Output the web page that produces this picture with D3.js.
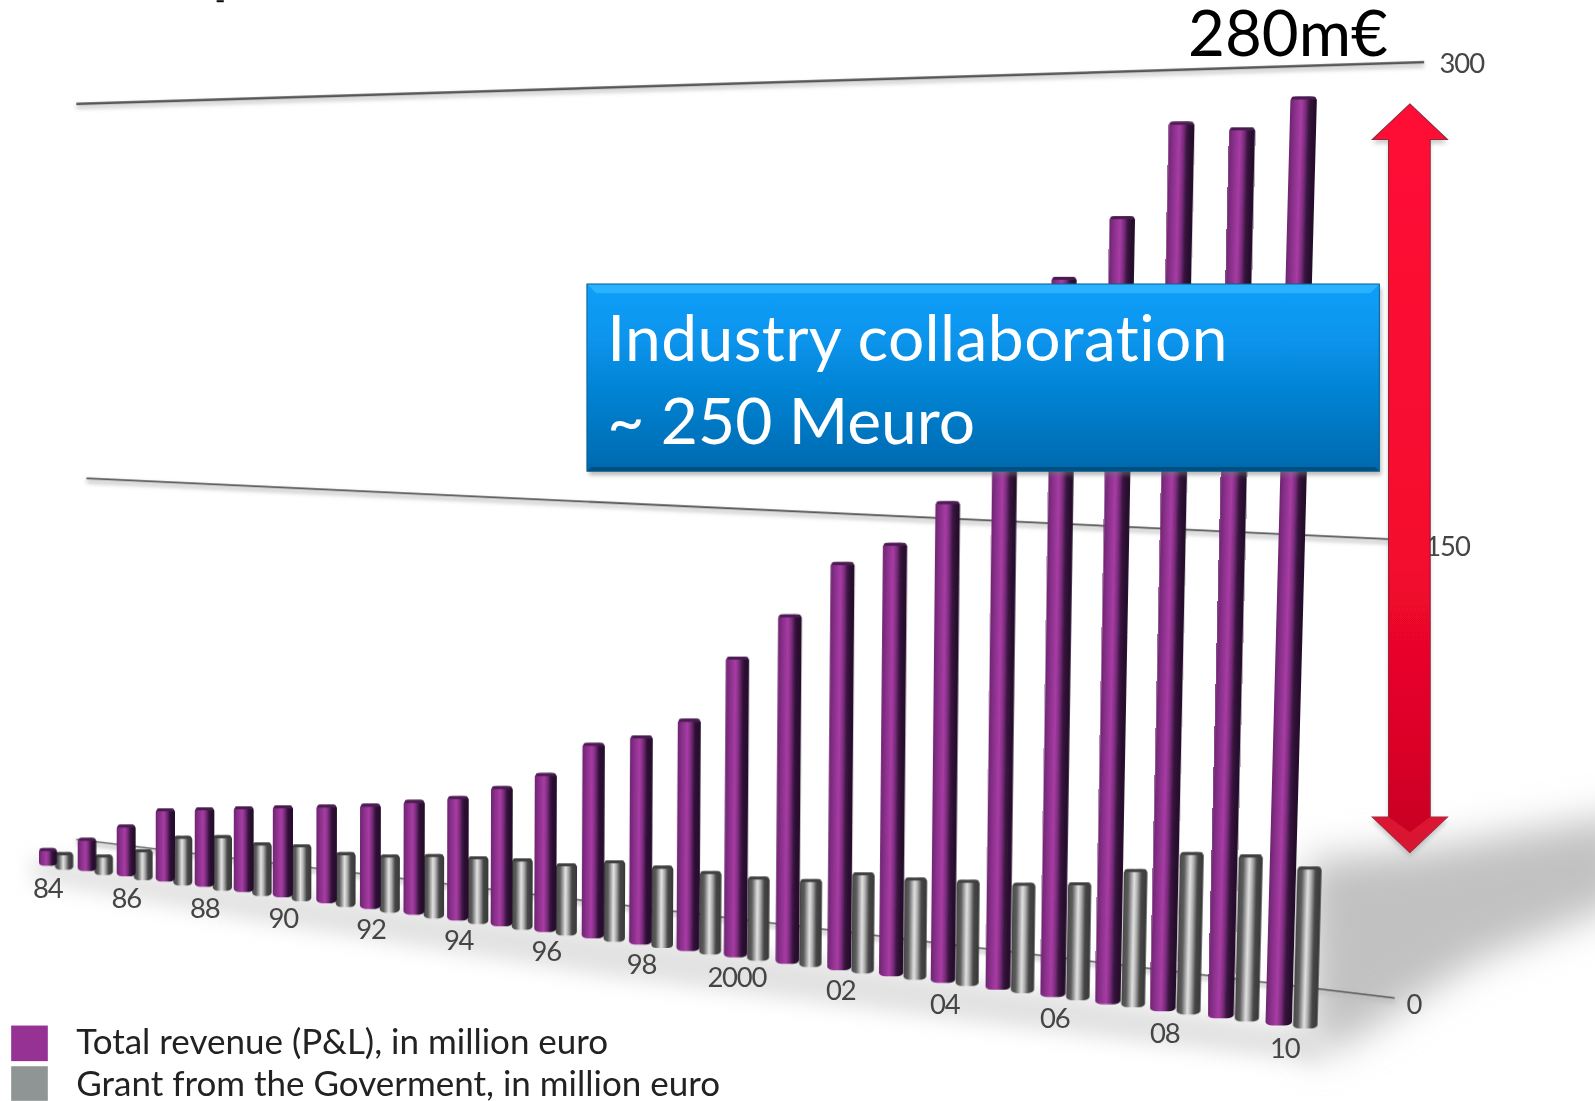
<!DOCTYPE html>
<html><head><meta charset="utf-8">
<style>html,body{margin:0;padding:0;background:#fff;overflow:hidden}svg{display:block}text{font-family:Lato,"Open Sans",sans-serif;font-variant-ligatures:none}</style>
<script src="https://cdnjs.cloudflare.com/ajax/libs/d3/7.8.5/d3.min.js"></script>
</head><body>
<script>
const years = ["84","85","86","87","88","89","90","91","92","93","94","95","96","97","98","99","2000","01","02","03","04","05","06","07","08","09","10"];
const revenue = [7,13,20,28,30,32,34,36,38,41,44,49,55,67,71,78,100,115,133,140,154,195,226,245,274,272,281];
const grant = [7,8,12,19,21,20,21,20,21,23,24,25,25,28,28,28,28,29,33,33,34,35,37,43,50,51,49];
const yearTicks = ["84","86","88","90","92","94","96","98","2000","02","04","06","08","10"];
const valueTicks = [300,150,0];
const legendItems = ["Total revenue (P&L), in million euro","Grant from the Goverment, in million euro"];
const calloutLines = ["Industry collaboration","~ 250 Meuro"];
const totalLabel = "280m€";

const W=1568,H=1082;
const svg=d3.select("body").append("svg").attr("width",1595).attr("height",1101).attr("viewBox",`0 0 ${W} ${H}`);
const defs=svg.append("defs");
const blur=(id,s)=>defs.append("filter").attr("id",id).attr("x","-30%").attr("y","-30%").attr("width","160%").attr("height","160%").append("feGaussianBlur").attr("stdDeviation",s);
blur("b0",0.7);blur("b1",2);blur("b2",10);blur("b3",19);
const grad=(id,stops,vertical)=>{const g=defs.append("linearGradient").attr("id",id).attr("x1",0).attr("y1",0).attr("x2",vertical?0:1).attr("y2",vertical?1:0);
  stops.forEach(s=>g.append("stop").attr("offset",s[0]).attr("stop-color",s[1]));};
grad("gPurple",[[0,"#6e2570"],[.12,"#7f2c82"],[.42,"#a83ca4"],[.58,"#7a2c7c"],[.74,"#33123a"],[1,"#241029"]]);
grad("gGrey",[[0,"#484848"],[.2,"#5c5c5c"],[.45,"#e2e2e2"],[.58,"#b0b0b0"],[.76,"#474747"],[1,"#383838"]]);
grad("gBox",[[0,"#0a9ffa"],[.3,"#0794ec"],[1,"#0469ae"]],true);
grad("gArrow",[[0,"#ff0a36"],[.6,"#f5082e"],[.85,"#dc0428"],[1,"#c40422"]],true);

// perspective scales: position along the floor and px per unit, by year index
const last=years.length-1;
const xBase=d3.scaleLinear().domain([0,6,12,16,20,24,26]).range([47,278,536,723,927,1143,1257]);
const yBase=d3.scaleLinear().domain([0,6,12,16,20,24,26]).range([851,882,916,941,966,994,1008]);
const unit=d3.scaleLinear().domain([0,last]).range([2.49,3.25]);
const shear=d3.scaleLinear().domain([0,10,20,last]).range([0,0.002,0.01,0.027]);
const barW=d3.scaleLinear().domain([0,last]).range([18,26]);
const greyW=d3.scaleLinear().domain([0,last]).range([18,24]);
const greyOff=d3.scaleLinear().domain([0,last]).range([16,26]);
const yGreyDrop=d3.scaleLinear().domain([0,last]).range([4,3]);
const labelDx=d3.scaleLinear().domain([0,24,26]).range([0,2,6]);
const labelDy=d3.scaleLinear().domain([0,10,14,26]).range([31.5,29,28.5,32]);
const xTicks=d3.scalePoint().domain(years).range([0,last]);

// floor shadows
const shadow=svg.append("g");
shadow.append("path").attr("d",d3.line()([[1285,845],[1400,835],[1600,800],[1600,885],[1450,945],[1340,1015],[1290,1040]])).attr("fill","#c2c1c2").attr("filter","url(#b3)");
shadow.append("path").attr("d",d3.line()([[35,842],[300,880],[700,930],[1000,970],[1290,1012],[1300,1045],[1000,1010],[600,960],[250,905],[30,865]])).attr("fill","#cfcfcf").attr("opacity",.6).attr("filter","url(#b2)");

const chart=svg.append("g").attr("filter","url(#b0)");

// gridlines
const gridY={300:[[75,102],[1400,61]],150:[[85,470],[1370,530]],0:[[75,825],[1371,981]]};
const gl=chart.append("g");
valueTicks.forEach(v=>{
  gl.append("path").attr("d",d3.line()(gridY[v].map(p=>[p[0],p[1]+3]))).attr("stroke","#bbb").attr("stroke-width",3).attr("fill","none").attr("filter","url(#b1)");
  gl.append("path").attr("d",d3.line()(gridY[v])).attr("stroke","#555").attr("stroke-width",v===300?2.4:v===150?1.8:1.4).attr("fill","none");
});

function bar(i,v,fill,cap,dx,dy,w){
  const h=v*unit(i),hs=shear(i);
  const g=chart.append("g").attr("transform",`matrix(1,0,${-hs},1,${xBase(i)+dx},${yBase(i)+dy})`);
  g.append("rect").attr("x",-w/2).attr("y",-h).attr("width",w).attr("height",h).attr("rx",w*.28).attr("ry",3.5).attr("fill",fill);
  g.append("rect").attr("x",-w/2+1).attr("y",-h).attr("width",w-2).attr("height",3).attr("rx",2).attr("fill",cap);
}
years.forEach((y,i)=>{
  bar(i,grant[i],"url(#gGrey)","#3f3f3f",greyOff(i),yGreyDrop(i),greyW(i));
  bar(i,revenue[i],"url(#gPurple)","#4a1c50",0,0,barW(i));
});

// year labels
chart.append("g").selectAll("text").data(yearTicks).join("text")
  .attr("x",d=>xBase(xTicks(d))+labelDx(xTicks(d)))
  .attr("y",d=>yBase(xTicks(d))+labelDy(xTicks(d)))
  .attr("text-anchor","middle").attr("font-size",27).attr("fill","#454545").attr("letter-spacing",-1.2).text(d=>d);

// value labels
const valPos={300:[1437,72],150:[1423,546],0:[1390,997]};
chart.append("g").selectAll("text").data(valueTicks).join("text")
  .attr("x",d=>valPos[d][0]).attr("y",d=>valPos[d][1]).attr("text-anchor","middle")
  .attr("font-size",27).attr("fill","#454545").attr("letter-spacing",-1).text(d=>d);

// arrow
const arrowPts=[[1386,102],[1423,137],[1406,137],[1406,803],[1423,803],[1386,838],[1349,803],[1365,803],[1365,137],[1349,137]];
chart.append("path").attr("d",d3.line()(arrowPts.map(p=>[p[0],p[1]+4]))+"Z").attr("fill","#999").attr("opacity",.5).attr("filter","url(#b1)");
chart.append("path").attr("d",d3.line()(arrowPts)+"Z").attr("fill","url(#gArrow)").attr("stroke","#8d2a3e").attr("stroke-width",1);
chart.append("path").attr("d",d3.line()([[1386,838],[1349,803],[1365,803],[1386,818],[1406,803],[1423,803]])+"Z").attr("fill","#e8203f").attr("opacity",.55);

// callout box
const box=chart.append("g");
box.append("rect").attr("x",579).attr("y",283).attr("width",779).attr("height",184).attr("fill","#777").attr("opacity",.5).attr("filter","url(#b1)");
box.append("rect").attr("x",577).attr("y",279).attr("width",779).attr("height",184).attr("fill","url(#gBox)");
box.append("path").attr("d",d3.line()([[577,279],[1356,279],[1347,288],[586,288]])+"Z").attr("fill","#2cb2ff");
box.append("path").attr("d",d3.line()([[577,463],[1356,463],[1352,459],[581,459]])+"Z").attr("fill","#05507f");
box.append("rect").attr("x",577).attr("y",279).attr("width",779).attr("height",184).attr("fill","none").attr("stroke","#0a5f92").attr("stroke-width",1);
box.selectAll("text").data(calloutLines).join("text").attr("x",597).attr("y",(d,i)=>355+i*81).attr("font-size",63).attr("letter-spacing",(d,i)=>i?0:.38).attr("fill","#fff").text(d=>d);

// total label
chart.append("text").attr("x",1168).attr("y",55).attr("font-size",62.5).attr("fill","#000").text(totalLabel);

// legend
const leg=chart.append("g");
const legColors=["#953294","#8f9494"];
leg.selectAll("rect").data(legendItems).join("rect").attr("x",11).attr("y",(d,i)=>1008+i*40).attr("width",36).attr("height",(d,i)=>i?34:35).attr("fill",(d,i)=>legColors[i]);
leg.selectAll("text").data(legendItems).join("text").attr("x",75).attr("y",(d,i)=>1036+i*41).attr("font-size",34.4).attr("fill","#222").text(d=>d);

// clipped mark at the top edge
chart.append("rect").attr("x",213).attr("y",0).attr("width",7).attr("height",2).attr("fill","#111");
</script>
</body></html>
